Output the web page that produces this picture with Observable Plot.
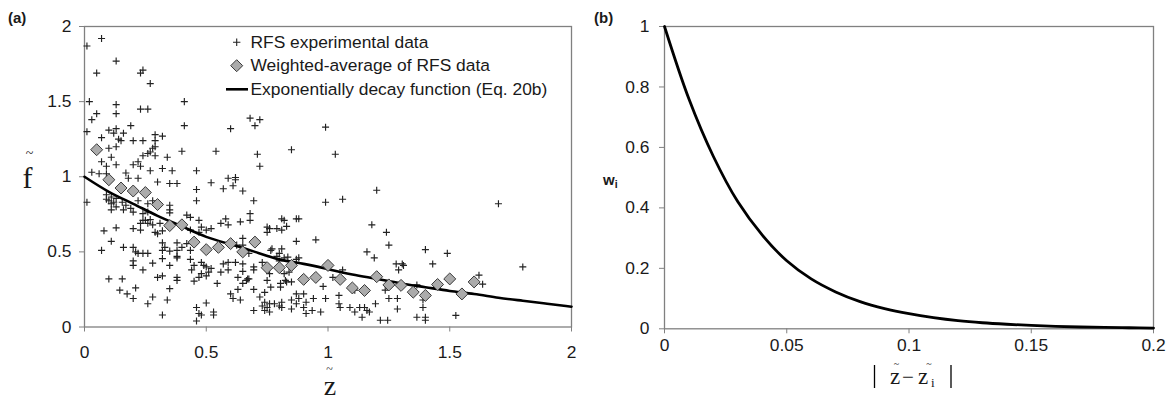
<!DOCTYPE html>
<html><head><meta charset="utf-8">
<script src="https://cdn.jsdelivr.net/npm/d3@7"></script>
<script src="https://cdn.jsdelivr.net/npm/@observablehq/plot@0.6"></script>
<style>
body{margin:0;background:#fff;}
#wrap{position:relative;width:1168px;height:400px;overflow:hidden;background:#fff;}
#a{position:absolute;left:0;top:0}
#b{position:absolute;left:590px;top:0}
</style></head><body><div id="wrap"><div id="a"></div><div id="b"></div></div>
<script>
// ---------- Panel (a) data ----------
const rfsZ = [0.01,0.07,0.13,0.05,0.23,0.24,0.27,0.02,0.13,0.13,0.23,0.26,0.41,0.05,0.03,0.01,0.10,0.13,0.12,0.16,0.19,0.14,0.07,0.15,0.20,0.24,0.29,0.32,0.29,0.41,0.60,0.68,0.72,0.70,0.10,0.13,0.28,0.27,0.29,0.29,0.24,0.26,0.34,0.40,0.54,0.11,0.07,0.09,0.13,0.20,0.22,0.23,0.27,0.32,0.36,0.46,0.03,0.06,0.17,0.62,0.85,0.71,0.72,0.99,1.03,1.20,1.06,0.52,0.57,0.61,0.62,0.65,0.46,
0.09,0.01,0.18,0.22,0.30,0.35,0.38,0.46,0.09,0.11,0.10,0.12,0.13,0.11,0.11,0.13,0.09,0.155,0.17,0.16,0.19,0.20,0.22,0.26,0.28,0.35,0.35,0.35,0.24,0.26,0.25,0.24,0.26,0.23,0.27,0.28,0.31,0.29,0.30,0.32,0.08,0.13,0.20,0.23,0.11,0.07,0.16,0.20,0.21,0.22,0.24,0.26,0.32,0.33,0.32,0.35,0.38,0.38,0.38,0.40,0.42,0.435,0.32,0.35,0.38,0.20,0.20,0.24,0.28,0.435,0.45,0.44,0.48,0.49,0.50,0.48,0.51,0.52,0.45,0.47,0.50,0.545,0.56,0.59,0.57,0.59,0.62,0.65,0.65,0.63,0.67,0.65,0.30,0.32,0.35,0.38,0.38,0.10,0.155,0.145,0.175,0.21,0.20,0.28,0.26,0.34,0.32,0.46,0.47,0.46,0.50,0.53,0.53,0.60,0.63,0.64,0.61,0.58,0.56,0.59,0.52,0.50,0.64,0.65,0.625,0.65,0.42,0.435,0.47,0.48,0.435,0.47,0.59,0.48,
0.695,0.68,0.68,0.75,0.75,0.76,0.81,0.83,0.81,0.87,0.88,0.99,1.18,1.24,1.25,1.16,1.19,0.87,0.95,0.77,0.81,0.79,0.80,0.82,0.88,0.87,0.675,0.695,0.73,0.76,0.805,0.83,0.84,0.82,0.695,0.72,0.74,0.74,0.75,0.73,0.76,0.695,0.74,0.76,0.78,0.80,0.81,0.81,0.85,0.85,0.87,0.87,0.88,0.90,0.91,0.91,0.90,0.935,0.94,0.97,0.98,0.99,1.02,1.045,1.045,1.05,1.06,1.10,1.11,1.09,1.11,1.13,1.15,1.15,1.16,1.14,1.17,1.195,1.215,1.245,1.25,1.235,1.285,1.29,1.305,1.285,
1.40,1.43,1.49,1.70,1.80,1.62,1.635,1.28,1.31,1.365,1.39,1.365,1.40,1.40,1.525,1.39,0.695,0.665,0.675,0.75,0.765,0.805,0.825,0.85,0.79,0.82,0.765,0.80,0.835];
const rfsF = [1.87,1.92,1.77,1.69,1.69,1.71,1.62,1.50,1.48,1.42,1.45,1.45,1.50,1.42,1.38,1.30,1.31,1.32,1.29,1.29,1.34,1.25,1.26,1.24,1.24,1.24,1.28,1.27,1.24,1.34,1.32,1.39,1.38,1.34,1.19,1.20,1.19,1.165,1.14,1.20,1.14,1.155,1.13,1.17,1.17,1.13,1.10,1.07,1.08,1.08,1.10,1.07,1.04,1.055,1.04,1.04,1.03,1.02,1.025,0.995,1.18,1.15,1.07,1.33,1.15,0.91,0.85,0.96,0.92,0.94,0.98,0.905,0.915,
1.02,0.83,0.99,0.99,0.965,0.955,0.955,0.84,0.88,0.865,0.84,0.83,0.855,0.82,0.78,0.80,0.85,0.83,0.81,0.78,0.79,0.765,0.84,0.82,0.84,0.81,0.78,0.76,0.755,0.765,0.71,0.71,0.69,0.69,0.715,0.68,0.69,0.63,0.62,0.64,0.64,0.66,0.655,0.645,0.57,0.51,0.53,0.53,0.50,0.49,0.49,0.49,0.56,0.53,0.51,0.505,0.56,0.51,0.47,0.53,0.555,0.51,0.455,0.41,0.46,0.44,0.41,0.38,0.425,0.45,0.41,0.38,0.43,0.41,0.40,0.355,0.365,0.39,0.305,0.33,0.34,0.29,0.365,0.38,0.42,0.43,0.43,0.42,0.37,0.33,0.32,0.29,0.33,0.34,0.255,0.33,0.31,0.32,0.32,0.245,0.22,0.26,0.19,0.20,0.155,0.18,0.08,0.13,0.09,0.04,0.16,0.10,0.08,0.22,0.25,0.18,0.19,0.72,0.69,0.68,0.655,0.645,0.70,0.59,0.545,0.545,0.745,0.73,0.71,0.665,0.645,0.63,0.99,0.08,
0.84,0.755,0.71,0.665,0.63,0.655,0.72,0.67,0.645,0.72,0.72,0.83,0.68,0.63,0.545,0.50,0.46,0.57,0.58,0.52,0.52,0.47,0.44,0.46,0.46,0.45,0.32,0.40,0.43,0.355,0.29,0.30,0.365,0.355,0.25,0.20,0.23,0.165,0.13,0.14,0.155,0.11,0.11,0.10,0.155,0.14,0.165,0.13,0.18,0.12,0.22,0.155,0.19,0.22,0.165,0.09,0.13,0.11,0.19,0.10,0.27,0.19,0.33,0.21,0.155,0.13,0.38,0.265,0.245,0.13,0.10,0.13,0.23,0.13,0.11,0.065,0.10,0.155,0.045,0.045,0.19,0.245,0.19,0.38,0.42,0.12,
0.515,0.42,0.49,0.82,0.40,0.345,0.285,0.42,0.41,0.28,0.13,0.065,0.065,0.045,0.077,0.18,0.38,0.31,0.49,0.31,0.265,0.265,0.31,0.30,0.655,0.71,0.51,0.49,0.465];

const avgZ = [0.05,0.10,0.15,0.20,0.25,0.30,0.35,0.40,0.45,0.50,0.55,0.60,0.65,0.70,0.75,0.80,0.85,0.90,0.95,1.00,1.05,1.10,1.15,1.20,1.25,1.30,1.35,1.40,1.45,1.50,1.55,1.60];
const avgF = [1.18,0.98,0.925,0.905,0.895,0.815,0.675,0.68,0.565,0.515,0.53,0.555,0.50,0.565,0.395,0.395,0.41,0.317,0.33,0.41,0.317,0.26,0.243,0.335,0.28,0.277,0.232,0.21,0.283,0.32,0.22,0.30];

const fitZ = [0,0.1,0.2,0.3,0.4,0.5,0.6,0.7,0.8,0.9,1.0,1.1,1.2,1.3,1.4,1.5,1.6,1.7,1.8,1.9,2.0];
const fitF = [1.00,0.90,0.82,0.74,0.67,0.60,0.55,0.50,0.45,0.42,0.385,0.35,0.32,0.29,0.265,0.24,0.22,0.195,0.175,0.155,0.135];

const aTicksX = [0,0.5,1,1.5,2];
const aTicksY = [0,0.5,1,1.5,2];
const legendLabels = ["RFS experimental data","Weighted-average of RFS data","Exponentially decay function (Eq. 20b)"];

// ---------- Panel (b) data ----------
const wD = [0,0.01,0.02,0.03,0.04,0.05,0.06,0.07,0.08,0.09,0.10,0.11,0.12,0.13,0.14,0.15,0.16,0.17,0.18,0.19,0.20];
const wW = [1.0,0.76,0.57,0.42,0.31,0.225,0.165,0.122,0.09,0.067,0.05,0.037,0.027,0.02,0.015,0.011,0.008,0.006,0.0045,0.0035,0.0025];
const bTicksX = [0,0.05,0.1,0.15,0.2];
const bTicksY = [0,0.2,0.4,0.6,0.8,1];

// ---------- build ----------
const sans = "'Liberation Sans', Arial, sans-serif";
const serif = "'Liberation Serif', 'Times New Roman', serif";
const frameCol = "#808080";
const txtCol = "#1a1a1a";
const fs = 17.4;

const rfs = rfsZ.map((z,i)=>({z, f: rfsF[i]}));
const avg = avgZ.map((z,i)=>({z, f: avgF[i]}));
const fit = fitZ.map((z,i)=>({z, f: fitF[i]}));
const wdat = wD.map((d,i)=>({d, w: wW[i]}));

const plotA = Plot.plot({
  width: 590, height: 400,
  marginLeft: 84, marginRight: 19, marginTop: 26, marginBottom: 73.5,
  style: {fontFamily: sans, fontSize: fs + "px", color: txtCol, background: "white"},
  x: {domain: [0,2], label: null},
  y: {domain: [0,2], label: null},
  marks: [
    Plot.frame({stroke: frameCol, strokeWidth: 1.3}),
    Plot.axisX(aTicksX, {tickSize: 5, tickPadding: 14, stroke: frameCol, color: txtCol, fill: txtCol, label: null, tickFormat: d => String(d)}),
    Plot.axisY(aTicksY, {tickSize: 5, tickPadding: 8, stroke: frameCol, color: txtCol, fill: txtCol, label: null, tickFormat: d => String(d)}),
    Plot.dot(rfs, {x: "z", y: "f", symbol: "plus", r: 2.4, stroke: "#222", strokeWidth: 1.15}),
    Plot.line(fit, {x: "z", y: "f", curve: "natural", stroke: "#000", strokeWidth: 2.6}),
    Plot.dot(avg, {x: "z", y: "f", symbol: "diamond2", r: 5.4, fill: "#ababab", stroke: "#3a3a3a", strokeWidth: 1})
  ]
});
document.getElementById("a").appendChild(plotA);

const sa = d3.select(plotA);
// legend
const lg = sa.append("g").attr("font-family", sans).attr("font-size", fs).attr("fill", txtCol).attr("text-anchor", "start");
lg.append("path").attr("d", "M233,42.3h7.4M236.7,38.6v7.4").attr("stroke", "#222").attr("stroke-width", 1.1);
lg.append("path").attr("d", "M236.7,59.7l6,6l-6,6l-6,-6z").attr("fill", "#ababab").attr("stroke", "#3a3a3a");
lg.append("line").attr("x1", 226).attr("x2", 248).attr("y1", 89.3).attr("y2", 89.3).attr("stroke", "#000").attr("stroke-width", 2.6);
legendLabels.forEach((t,i) => lg.append("text").attr("x", 250.5).attr("y", [47.5,71,94.5][i]).attr("text-anchor", "start").text(t));
// panel label and axis titles
sa.append("text").attr("x", 8).attr("y", 23).attr("text-anchor", "start").attr("font-family", sans).attr("font-weight", "bold").attr("font-size", 15).attr("fill", txtCol).text("(a)");
sa.append("text").attr("x", 27.5).attr("y", 188).attr("text-anchor", "middle").attr("font-family", serif).attr("font-size", 30).attr("fill", txtCol).text("f");
sa.append("text").attr("x", 29.5).attr("y", 158).attr("text-anchor", "middle").attr("font-family", serif).attr("font-size", 14).attr("fill", txtCol).text("~");
sa.append("text").attr("x", 330).attr("y", 395).attr("text-anchor", "middle").attr("font-family", serif).attr("font-size", 28).attr("fill", txtCol).text("z");
sa.append("text").attr("x", 329.5).attr("y", 372.5).attr("text-anchor", "middle").attr("font-family", serif).attr("font-size", 12).attr("fill", txtCol).text("~");

const plotB = Plot.plot({
  width: 578, height: 400,
  marginLeft: 74, marginRight: 15, marginTop: 26, marginBottom: 71.7,
  style: {fontFamily: sans, fontSize: fs + "px", color: txtCol, background: "white"},
  x: {domain: [0,0.2], label: null},
  y: {domain: [0,1], label: null},
  marks: [
    Plot.frame({stroke: frameCol, strokeWidth: 1.3}),
    Plot.axisX(bTicksX, {tickSize: 5, tickPadding: 5, stroke: frameCol, color: txtCol, fill: txtCol, label: null, tickFormat: d => String(d)}),
    Plot.axisY(bTicksY, {tickSize: 5, tickPadding: 10, stroke: frameCol, color: txtCol, fill: txtCol, label: null, tickFormat: d => String(d)}),
    Plot.line(wdat, {x: "d", y: "w", curve: "catmull-rom", stroke: "#000", strokeWidth: 2.8})
  ]
});
document.getElementById("b").appendChild(plotB);
const sb = d3.select(plotB);
sb.append("text").attr("x", 4).attr("y", 23).attr("text-anchor", "start").attr("font-family", sans).attr("font-weight", "bold").attr("font-size", 15).attr("fill", txtCol).text("(b)");
const wl = sb.append("text").attr("x", 13).attr("y", 185).attr("text-anchor", "start").attr("font-family", sans).attr("font-weight", "bold").attr("font-size", 15).attr("fill", txtCol);
wl.append("tspan").text("w");
wl.append("tspan").attr("font-size", 10.5).attr("dy", 3).text("i");
// x title |z~ - z~i|
const xt = sb.append("g").attr("fill", txtCol).attr("font-family", serif).attr("text-anchor", "start");
xt.append("line").attr("x1", 284.5).attr("x2", 284.5).attr("y1", 365).attr("y2", 388).attr("stroke", "#000").attr("stroke-width", 1.3);
xt.append("line").attr("x1", 361).attr("x2", 361).attr("y1", 365).attr("y2", 388).attr("stroke", "#000").attr("stroke-width", 1.3);
xt.append("text").attr("x", 300).attr("y", 383.5).attr("font-size", 23).text("z");
xt.append("text").attr("x", 312).attr("y", 383.5).attr("font-size", 21).text("\u2212");
xt.append("text").attr("x", 328).attr("y", 383.5).attr("font-size", 23).text("z");
xt.append("text").attr("x", 341).attr("y", 387).attr("font-size", 13).text("i");
xt.append("text").attr("x", 306.5).attr("y", 367).attr("text-anchor", "middle").attr("font-size", 10).text("~");
xt.append("text").attr("x", 339).attr("y", 367).attr("text-anchor", "middle").attr("font-size", 10).text("~");
</script>
</body></html>
